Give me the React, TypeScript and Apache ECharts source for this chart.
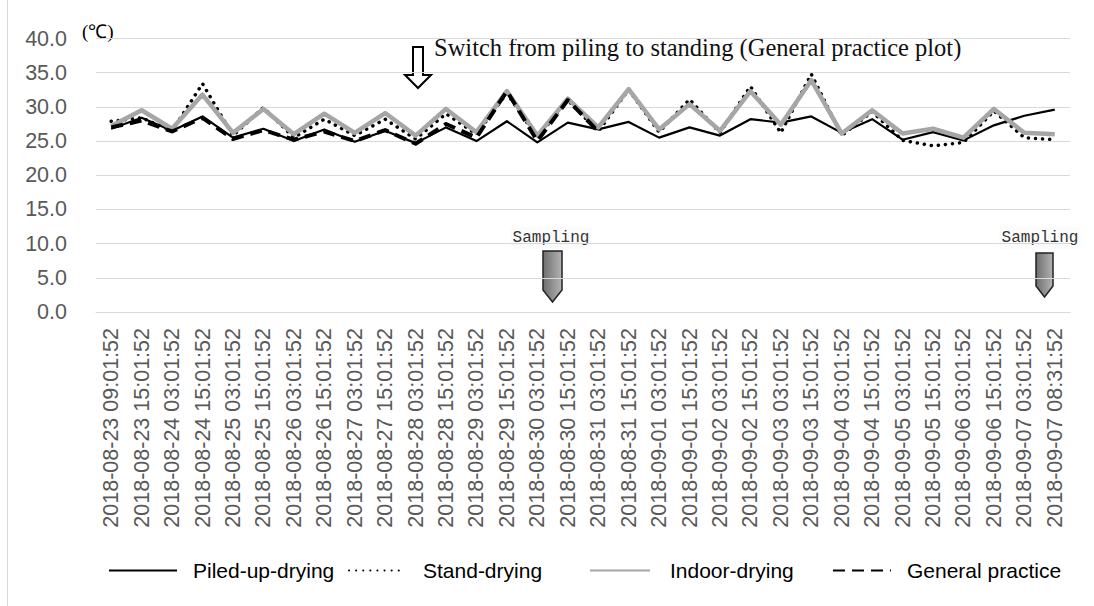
import React, { useEffect, useRef } from "react";
import * as echarts from "echarts";

// Sampling timestamps (12-hour readings)
const categories = [
  "2018-08-23 09:01:52", "2018-08-23 15:01:52", "2018-08-24 03:01:52", "2018-08-24 15:01:52",
  "2018-08-25 03:01:52", "2018-08-25 15:01:52", "2018-08-26 03:01:52", "2018-08-26 15:01:52",
  "2018-08-27 03:01:52", "2018-08-27 15:01:52", "2018-08-28 03:01:52", "2018-08-28 15:01:52",
  "2018-08-29 03:01:52", "2018-08-29 15:01:52", "2018-08-30 03:01:52", "2018-08-30 15:01:52",
  "2018-08-31 03:01:52", "2018-08-31 15:01:52", "2018-09-01 03:01:52", "2018-09-01 15:01:52",
  "2018-09-02 03:01:52", "2018-09-02 15:01:52", "2018-09-03 03:01:52", "2018-09-03 15:01:52",
  "2018-09-04 03:01:52", "2018-09-04 15:01:52", "2018-09-05 03:01:52", "2018-09-05 15:01:52",
  "2018-09-06 03:01:52", "2018-09-06 15:01:52", "2018-09-07 03:01:52", "2018-09-07 08:31:52",
];

// Temperatures (°C)
const piledUp = [
  26.8, 28.4, 26.5, 28.6, 25.5, 26.8, 25.0, 26.7, 24.9, 26.5, 24.7, 27.0, 25.0, 27.9, 24.8, 27.7,
  26.7, 27.8, 25.5, 27.0, 25.8, 28.2, 27.7, 28.6, 26.2, 28.2, 25.2, 26.3, 25.1, 27.3, 28.7, 29.6,
];
const standDrying = [
  27.9, 28.4, 26.5, 33.4, 25.8, 29.9, 25.5, 28.2, 25.8, 28.2, 25.3, 29.0, 26.0, 32.0, 25.5, 31.0,
  26.4, 32.5, 26.3, 31.1, 26.2, 33.0, 26.2, 34.8, 25.8, 29.3, 25.1, 24.3, 24.8, 29.4, 25.5, 25.2,
];
const indoorDrying = [
  27.2, 29.5, 26.8, 31.8, 26.2, 29.7, 26.0, 29.0, 26.2, 29.1, 25.8, 29.7, 26.3, 32.3, 25.8, 31.2,
  27.0, 32.6, 26.7, 30.4, 26.5, 32.3, 27.4, 33.9, 26.1, 29.5, 26.1, 26.8, 25.5, 29.7, 26.2, 26.0,
];
const generalPractice = [
  27.0, 28.0, 26.4, 28.4, 25.3, 26.6, 25.2, 26.4, 25.0, 26.6, 24.6, 27.5, 25.5, 32.3, 25.0, 31.0,
  26.4, null, null, null, null, null, null, null, null, null, null, null, null, null, null, null,
];

const yMin = 0;
const yMax = 40;
const yStep = 5;

const SANS = "'Liberation Sans', Arial, sans-serif";
const SERIF = "'Liberation Serif', 'Times New Roman', serif";
const MONO = "'Liberation Mono', 'DejaVu Sans Mono', monospace";

export default function App() {
  const ref = useRef<HTMLDivElement>(null);

  useEffect(() => {
    if (!ref.current) return;
    const chart = echarts.init(ref.current, null, { renderer: "svg" });

    const arrowFill = new echarts.graphic.LinearGradient(0, 0, 1, 0, [
      { offset: 0, color: "#6e6e6e" },
      { offset: 1, color: "#b4b4b4" },
    ]);

    const legendBase = {
      top: 555,
      itemHeight: 14,
      selectedMode: false,
      // line-only legend keys
      itemStyle: { opacity: 0 },
      textStyle: { fontFamily: SANS, fontSize: 21, color: "#000" },
    };

    chart.setOption({
      animation: false,
      backgroundColor: "#fff",
      grid: { left: 96, right: 24, top: 38.5, bottom: 294, containLabel: false },
      xAxis: {
        type: "category",
        data: categories,
        boundaryGap: true,
        axisLine: { show: true, lineStyle: { color: "#d9d9d9", width: 1 } },
        axisTick: { show: false },
        axisLabel: {
          interval: 0,
          rotate: 90,
          margin: 16,
          fontFamily: SANS,
          fontSize: 21.5,
          color: "#595959",
        },
      },
      yAxis: {
        type: "value",
        min: yMin,
        max: yMax,
        interval: yStep,
        axisLine: { show: false },
        axisTick: { show: false },
        splitLine: { lineStyle: { color: "#d9d9d9", width: 1 } },
        axisLabel: {
          margin: 29,
          fontFamily: SANS,
          fontSize: 21.5,
          color: "#595959",
          formatter: (v: number) => v.toFixed(1),
        },
      },
      legend: [
        { ...legendBase, left: 103, itemWidth: 68, data: ["Piled-up-drying"],
          textStyle: { ...legendBase.textStyle, padding: [0, 0, 0, 11] } },
        { ...legendBase, left: 343, itemWidth: 56, data: ["Stand-drying"],
          textStyle: { ...legendBase.textStyle, padding: [0, 0, 0, 13] } },
        { ...legendBase, left: 584, itemWidth: 60, data: ["Indoor-drying"],
          textStyle: { ...legendBase.textStyle, padding: [0, 0, 0, 15] } },
        { ...legendBase, left: 827, itemWidth: 58, data: ["General practice"],
          textStyle: { ...legendBase.textStyle, padding: [0, 0, 0, 11] } },
      ],
      series: [
        {
          name: "Piled-up-drying",
          type: "line",
          data: piledUp,
          symbol: "none",
          itemStyle: { color: "#000" },
          lineStyle: { color: "#000", width: 2.2, join: "round" },
        },
        {
          name: "Stand-drying",
          type: "line",
          data: standDrying,
          symbol: "none",
          itemStyle: { color: "#000" },
          lineStyle: { color: "#000", width: 3.5, type: [0.1, 7], cap: "round", join: "round" },
        },
        {
          name: "Indoor-drying",
          type: "line",
          data: indoorDrying,
          symbol: "none",
          itemStyle: { color: "#a6a6a6" },
          lineStyle: { color: "#a6a6a6", width: 4.5, join: "round" },
        },
        {
          name: "General practice",
          type: "line",
          data: generalPractice,
          symbol: "none",
          connectNulls: false,
          itemStyle: { color: "#000" },
          lineStyle: { color: "#000", width: 4, type: [12, 7], join: "round" },
        },
      ],
      graphic: [
        // frame edge
        { type: "line", shape: { x1: 7.5, y1: 0, x2: 7.5, y2: 606 }, style: { stroke: "#d9d9d9", lineWidth: 1 } },
        // unit
        {
          type: "text", x: 82, y: 22,
          style: { text: "(℃)", fontFamily: SERIF, fontSize: 19, fill: "#000" },
        },
        // switch annotation
        {
          type: "polygon",
          shape: { points: [[413, 47], [423, 47], [423, 75], [431, 75], [418, 88], [405, 75], [413, 75]] },
          style: { fill: "#fff", stroke: "#000", lineWidth: 2 },
        },
        {
          type: "text", x: 434, y: 35,
          style: {
            text: "Switch from piling to standing (General practice plot)",
            fontFamily: SERIF, fontSize: 24.5, fill: "#111",
          },
        },
        // sampling markers
        {
          type: "text", x: 551, y: 238,
          style: {
            text: "Sampling", fontFamily: MONO, fontSize: 16, fill: "#333",
            align: "center", verticalAlign: "middle",
            backgroundColor: "#fbfbfb", padding: [3, 2],
          },
        },
        {
          type: "polygon",
          shape: { points: [[543, 251], [562, 251], [562, 290], [552.5, 302], [543, 290]] },
          style: { fill: arrowFill, stroke: "#222", lineWidth: 1.5 },
        },
        {
          type: "text", x: 1040, y: 238,
          style: {
            text: "Sampling", fontFamily: MONO, fontSize: 16, fill: "#333",
            align: "center", verticalAlign: "middle",
            backgroundColor: "#fbfbfb", padding: [3, 2],
          },
        },
        {
          type: "polygon",
          shape: { points: [[1036, 253], [1053, 253], [1053, 286], [1044.5, 297], [1036, 286]] },
          style: { fill: arrowFill, stroke: "#222", lineWidth: 1.5 },
        },
      ],
    });

    return () => chart.dispose();
  }, []);

  return (
    <div
      ref={ref}
      style={{ position: "absolute", left: 0, top: 0, width: 1094, height: 606 }}
    />
  );
}
